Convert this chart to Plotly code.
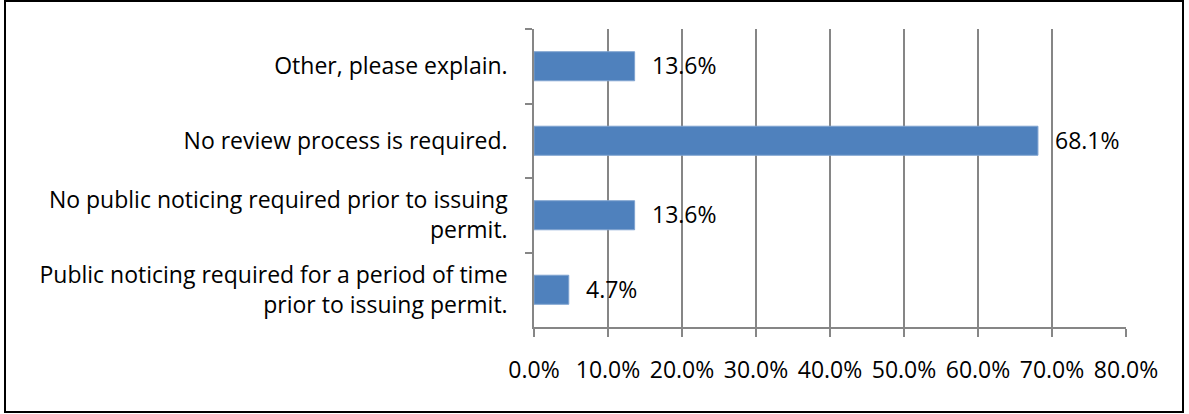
import plotly.graph_objects as go

categories = [
    "Other, please explain.",
    "No review process is required.",
    "No public noticing required prior to issuing<br>permit.",
    "Public noticing required for a period of time<br>prior to issuing permit.",
]
values = [13.6, 68.1, 13.6, 4.7]
x_ticks = [0, 10, 20, 30, 40, 50, 60, 70, 80]

FONT = "Open Sans, Arial, sans-serif"
FS = 23
GRID = "#868686"

fig = go.Figure()
fig.add_trace(go.Bar(
    x=values, y=categories, orientation="h",
    marker=dict(color="#4F81BD", line=dict(color="#7FA3D0", width=1)),
    hoverinfo="x+y",
))

for v, c in zip(values, categories):
    fig.add_annotation(x=v, y=c, text=f"{v:.1f}%", showarrow=False,
                       xanchor="left", xshift=15, yshift=1,
                       font=dict(family=FONT, size=FS, color="#000000"))

L, R, T, B = 534, 63, 29, 87
W, H = 1189, 414
pw, ph = W - L - R, H - T - B

fig.update_layout(
    width=W, height=H,
    margin=dict(l=L, r=R, t=T, b=B, pad=0),
    paper_bgcolor="white", plot_bgcolor="white",
    bargap=0.61, showlegend=False,
    font=dict(family=FONT, size=FS, color="#000000"),
    xaxis=dict(range=[0, 80], tickvals=x_ticks,
               ticktext=[f"{t:.1f}%" for t in x_ticks],
               showgrid=True, gridcolor=GRID, gridwidth=1.5,
               showline=True, linecolor=GRID, linewidth=1.5,
               ticks="outside", ticklen=8, tickcolor=GRID, tickwidth=1.5,
               tickangle=0, ticklabelstandoff=14, zeroline=False, fixedrange=True),
    yaxis=dict(autorange="reversed", type="category",
               showline=True, linecolor=GRID, linewidth=1.5,
               ticks="outside", ticklen=7, tickcolor=GRID, tickwidth=1.5,
               tickson="boundaries", showgrid=False,
               ticklabelstandoff=20, fixedrange=True),
    shapes=[dict(type="rect", xref="paper", yref="paper",
                 x0=(5 - L) / pw, x1=(1183 - L) / pw,
                 y0=(H - B - 412) / ph, y1=(H - B - 1) / ph,
                 line=dict(color="#000000", width=2), fillcolor="rgba(0,0,0,0)",
                 layer="below")],
)

fig.write_html("out.html")
